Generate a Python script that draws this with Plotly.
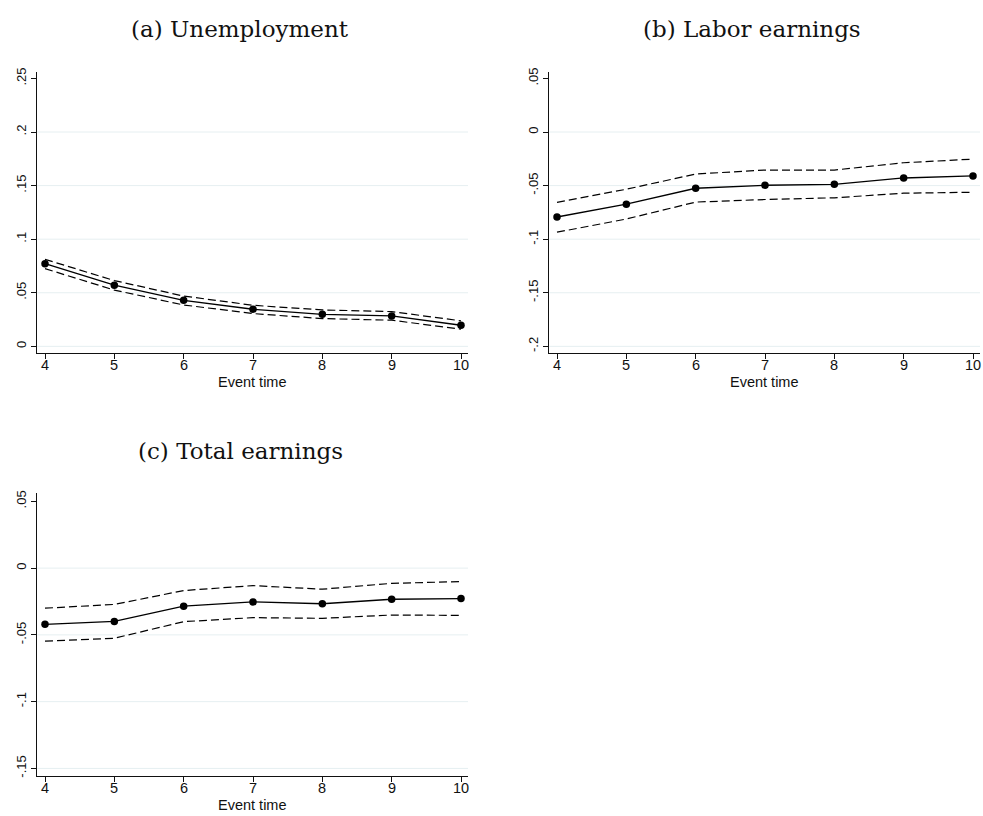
import plotly.graph_objects as go

# ---------------- data ----------------
event_time = [4, 5, 6, 7, 8, 9, 10]

unemp_est = [0.0771, 0.0571, 0.0429, 0.0346, 0.0299, 0.0284, 0.0197]
unemp_hi = [0.0812, 0.0614, 0.0469, 0.0383, 0.0340, 0.0324, 0.0238]
unemp_lo = [0.0725, 0.0525, 0.0386, 0.0306, 0.0259, 0.0244, 0.0160]

labor_est = [-0.0793, -0.0673, -0.0525, -0.0497, -0.0488, -0.0429, -0.0410]
labor_hi = [-0.0657, -0.0534, -0.0392, -0.0355, -0.0355, -0.0287, -0.0253]
labor_lo = [-0.0935, -0.0812, -0.0654, -0.0630, -0.0614, -0.0571, -0.0562]

total_est = [-0.0421, -0.0399, -0.0285, -0.0253, -0.0267, -0.0233, -0.0228]
total_hi = [-0.0300, -0.0272, -0.0168, -0.0131, -0.0158, -0.0114, -0.0101]
total_lo = [-0.0547, -0.0525, -0.0401, -0.0371, -0.0376, -0.0351, -0.0354]

titles = ["(a) Unemployment", "(b) Labor earnings", "(c) Total earnings"]
x_title = "Event time"
x_labels = ["4", "5", "6", "7", "8", "9", "10"]

a_ticks = [0, 0.05, 0.10, 0.15, 0.20, 0.25]
a_labels = ["0", ".05", ".1", ".15", ".2", ".25"]
b_ticks = [0.05, 0, -0.05, -0.10, -0.15, -0.20]
b_labels = [".05", "0", "-.05", "-.1", "-.15", "-.2"]
c_ticks = [0.05, 0, -0.05, -0.10, -0.15]
c_labels = [".05", "0", "-.05", "-.1", "-.15"]

# ---------------- layout geometry (pixels) ----------------
W, H = 983, 816


def px_x(v):
    return v / W


def px_y(v):
    return 1 - v / H


panels = [
    dict(est=unemp_est, hi=unemp_hi, lo=unemp_lo, ticks=a_ticks, labels=a_labels,
         rng=[-0.0062, 0.2556], x0=37.3, x1=468.0, y0=68.0, y1=351.0,
         tx=240, ty=24),
    dict(est=labor_est, hi=labor_hi, lo=labor_lo, ticks=b_ticks, labels=b_labels,
         rng=[-0.2062, 0.0556], x0=549.3, x1=980.0, y0=68.0, y1=351.0,
         tx=751.7, ty=24),
    dict(est=total_est, hi=total_hi, lo=total_lo, ticks=c_ticks, labels=c_labels,
         rng=[-0.1554, 0.0559], x0=37.3, x1=468.0, y0=492.7, y1=777.3,
         tx=240, ty=450),
]

AXIS_COLOR = "#111111"
GRID_COLOR = "#e6eff1"
SANS = "Liberation Sans, Arial, sans-serif"
YTICK_FONT = dict(family=SANS, size=13, color="#111111")
XTICK_FONT = dict(family=SANS, size=14.5, color="#111111")

fig = go.Figure()
layout = dict(
    width=W, height=H,
    margin=dict(l=0, r=0, t=0, b=0),
    paper_bgcolor="white", plot_bgcolor="white",
    showlegend=False,
    annotations=[], shapes=[],
)

for i, p in enumerate(panels):
    n = "" if i == 0 else str(i + 1)
    xa, ya = "x" + n, "y" + n
    # CI bands (dashed)
    for series in (p["hi"], p["lo"]):
        fig.add_trace(go.Scatter(
            x=event_time, y=series, mode="lines", xaxis=xa, yaxis=ya,
            line=dict(color="black", width=1.2, dash="8px,4px"),
            hoverinfo="skip"))
    # point estimates
    fig.add_trace(go.Scatter(
        x=event_time, y=p["est"], mode="lines+markers", xaxis=xa, yaxis=ya,
        line=dict(color="black", width=1.3),
        marker=dict(color="black", size=7.5)))

    layout["xaxis" + n] = dict(
        domain=[px_x(p["x0"]), px_x(p["x1"])],
        anchor=ya, range=[3.889, 10.101],
        tickvals=event_time, showticklabels=False,
        ticks="outside", ticklen=5, tickwidth=1, tickcolor=AXIS_COLOR,
        showline=True, linecolor=AXIS_COLOR, linewidth=1,
        showgrid=False, zeroline=False,
    )
    layout["yaxis" + n] = dict(
        domain=[px_y(p["y1"]), px_y(p["y0"])],
        anchor=xa, range=p["rng"],
        tickvals=p["ticks"], ticktext=p["labels"], tickangle=-90,
        ticks="outside", ticklen=5, tickwidth=1, tickcolor=AXIS_COLOR,
        showline=True, linecolor=AXIS_COLOR, linewidth=1,
        showgrid=False, zeroline=False, tickfont=YTICK_FONT,
    )
    # x tick labels placed just below the ticks
    for xv, lab in zip(event_time, x_labels):
        layout["annotations"].append(dict(
            text=lab, xref=xa, yref="paper", x=xv, y=px_y(p["y1"] + 12.5),
            xanchor="center", yanchor="middle", showarrow=False,
            font=XTICK_FONT))
    # horizontal gridlines at every tick except the top one
    top = max(p["ticks"])
    for t in p["ticks"]:
        if t == top:
            continue
        layout["shapes"].append(dict(
            type="line", xref=xa + " domain", yref=ya, x0=0, x1=1, y0=t, y1=t,
            line=dict(color=GRID_COLOR, width=1), layer="below"))
    # panel title
    layout["annotations"].append(dict(
        text=titles[i], xref="paper", yref="paper",
        x=px_x(p["tx"]), y=px_y(p["ty"]), xanchor="center", yanchor="middle",
        showarrow=False,
        font=dict(family="DejaVu Serif, serif", size=23, color="#111111")))
    # x axis title
    layout["annotations"].append(dict(
        text=x_title, xref="paper", yref="paper",
        x=px_x((p["x0"] + p["x1"]) / 2), y=px_y(p["y1"] + 29.5),
        xanchor="center", yanchor="middle", showarrow=False,
        font=dict(family=SANS, size=14.5, color="#111111")))

fig.update_layout(**layout)
fig.write_html("out.html")
